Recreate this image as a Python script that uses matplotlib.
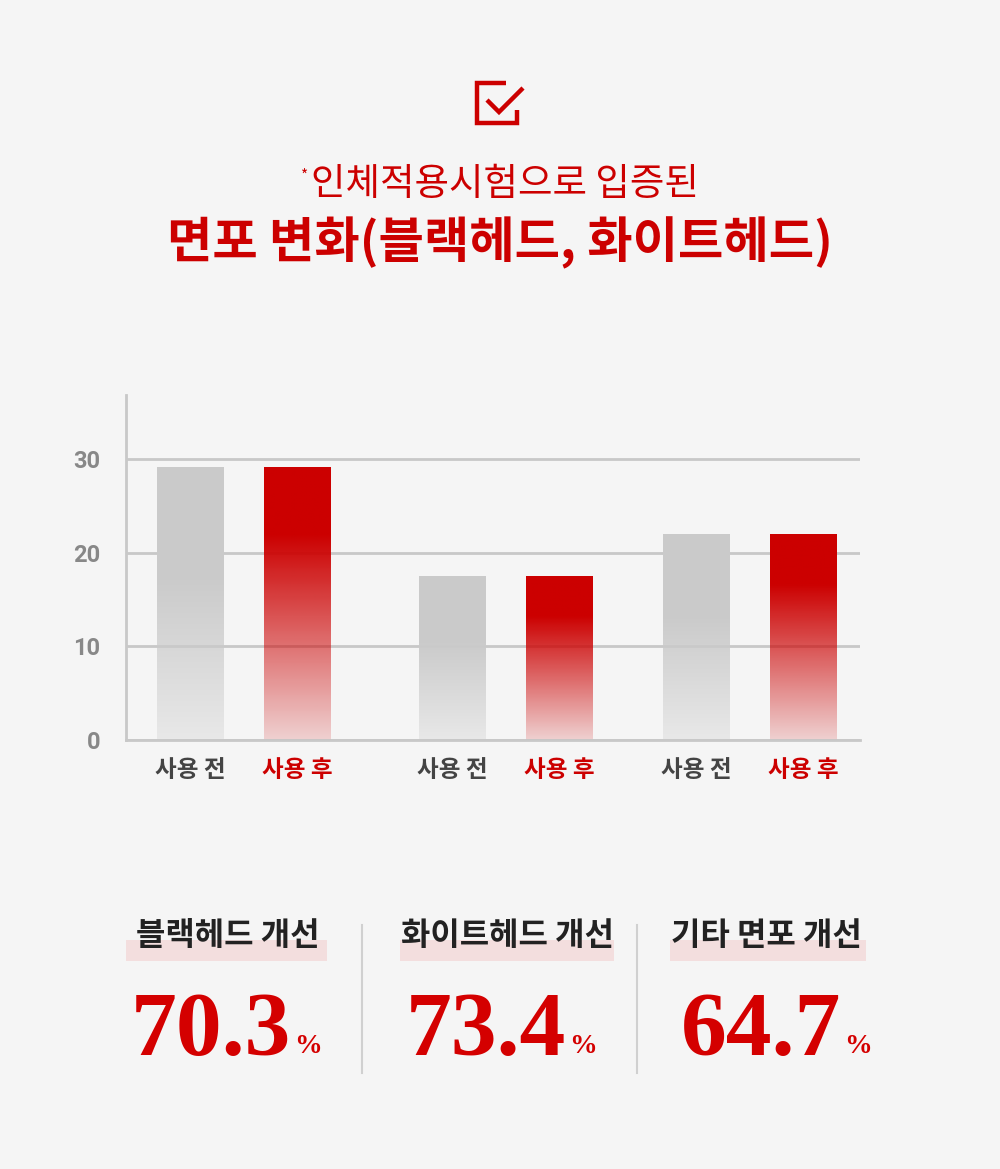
import matplotlib.pyplot as plt
import numpy as np
from matplotlib.patches import Rectangle
from matplotlib.lines import Line2D

plt.rcParams['font.family'] = ['Noto Sans CJK KR', 'DejaVu Sans']

# data
labels = ['사용 전', '사용 후', '사용 전', '사용 후', '사용 전', '사용 후']
values = [29.1, 29.1, 17.5, 17.5, 22.0, 22.0]
kinds = ['before', 'after', 'before', 'after', 'before', 'after']
yticks = [0, 10, 20, 30]
stat_titles = ['블랙헤드 개선', '화이트헤드 개선', '기타 면포 개선']
stat_values = [70.3, 73.4, 64.7]

RED = '#cc0000'
BG = '#f5f5f5'
W, H = 1000, 1169


def fx(x):
    return x / W


def fy(y):
    return 1 - y / H


fig = plt.figure(figsize=(10, 11.69), dpi=100, facecolor=BG)

# check box icon
for xs, ys in [([506, 477, 477, 517, 517], [83, 83, 123, 123, 110]),
               ([487, 499, 523], [100, 112, 88])]:
    fig.add_artist(Line2D([fx(v) for v in xs], [fy(v) for v in ys],
                          transform=fig.transFigure, color=RED, lw=3.2,
                          solid_joinstyle='miter', solid_capstyle='butt'))

# titles
fig.text(fx(305), fy(176), '*', color=RED, fontsize=11, ha='center', va='center')
fig.text(fx(311), fy(184), '인체적용시험으로 입증된', color=RED, fontsize=27,
         ha='left', va='center')
fig.text(fx(500), fy(243), '면포 변화(블랙헤드, 화이트헤드)', color=RED, fontsize=35.5,
         fontweight='bold', ha='center', va='center')

# bar chart
ax = fig.add_axes([fx(126), fy(740), fx(860) - fx(126), (740 - 395) / H])
ax.set_facecolor('none')
positions = [64.5, 171.5, 326.5, 433.5, 570.5, 677.5]
bars = ax.bar(positions, values, width=67, zorder=2)

n = 256
frac = np.linspace(0, 1, n)
for patch, kind in zip(bars, kinds):
    rgba = np.zeros((n, 1, 4))
    if kind == 'after':
        rgba[:, 0, :3] = [0.80, 0.0, 0.0]
        rgba[:, 0, 3] = np.clip(0.15 + 0.85 * frac / 0.75, 0, 1)
    else:
        rgba[:, 0, :3] = [0.795, 0.795, 0.795]
        rgba[:, 0, 3] = np.clip(0.30 + 0.70 * frac / 0.6, 0, 1)
    x0, y0 = patch.get_x(), patch.get_y()
    im = ax.imshow(rgba, extent=[x0, x0 + patch.get_width(), y0, y0 + patch.get_height()],
                   origin='lower', aspect='auto', zorder=2, interpolation='bilinear')
    im.set_clip_path(patch)
    patch.set_facecolor('none')

ax.set_xlim(0, 734)
ax.set_ylim(0, 36.8)
ax.set_yticks(yticks)
ax.set_yticklabels([str(t) for t in yticks], family='Roboto', fontweight='bold',
                   fontsize=17, color='#888888')
ax.get_yticklabels()[0].set_y(0.8)
ax.yaxis.grid(True, color='#c8c8c8', lw=2, zorder=0)
ax.set_axisbelow(True)
ax.tick_params(axis='y', length=0, pad=18.5)
ax.tick_params(axis='x', length=0, pad=13)
ax.set_xticks(positions)
ax.set_xticklabels(labels, fontsize=17, fontweight='bold')
for lab, kind in zip(ax.get_xticklabels(), kinds):
    lab.set_color(RED if kind == 'after' else '#444444')
for s in ['top', 'right']:
    ax.spines[s].set_visible(False)
for s in ['left', 'bottom']:
    ax.spines[s].set_color('#c8c8c8')
    ax.spines[s].set_linewidth(2)

# bottom stats
centers = [228, 507, 766]
hl = [(126, 327), (400, 614), (670, 866)]
num_right = [291, 566, 841]
for title, val, cx, (h0, h1), nr in zip(stat_titles, stat_values, centers, hl, num_right):
    fig.add_artist(Rectangle((fx(h0), fy(961)), fx(h1) - fx(h0), (961 - 940) / H,
                             transform=fig.transFigure, color='#f3dede', lw=0))
    fig.text(fx(cx), fy(936), title, fontsize=23, fontweight='bold', color='#222222',
             ha='center', va='center')
    fig.text(fx(nr), fy(1055), f'{val:.1f}', family='Liberation Serif', fontweight='bold',
             fontsize=66, color='#d40000', ha='right', va='baseline')
    fig.text(fx(nr + 3), fy(1053), '%', family='Liberation Serif', fontweight='bold',
             fontsize=20, color='#d40000', ha='left', va='baseline')

for x in [362, 637]:
    fig.add_artist(Line2D([fx(x), fx(x)], [fy(925), fy(1073)], transform=fig.transFigure,
                          color='#d0d0d0', lw=1.5))

fig.savefig('out.png', dpi=100, facecolor=BG)
